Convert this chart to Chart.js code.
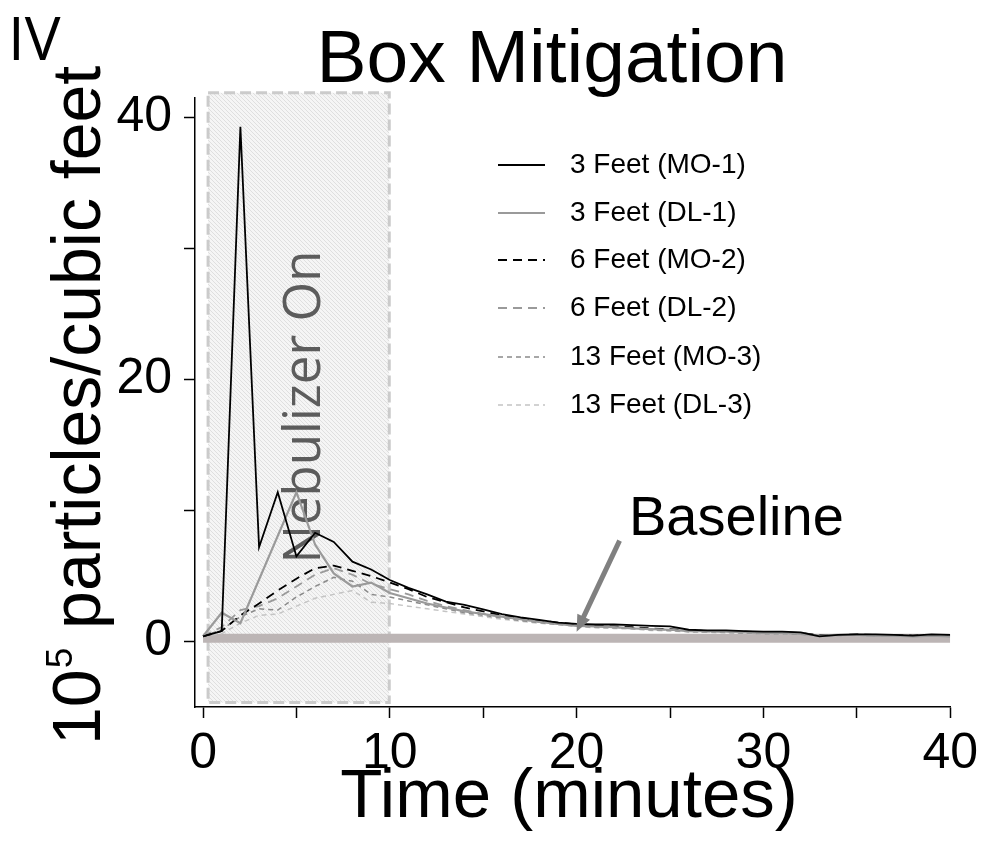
<!DOCTYPE html>
<html>
<head>
<meta charset="utf-8">
<title>Box Mitigation</title>
<script src="https://cdn.jsdelivr.net/npm/chart.js@4.4.1/dist/chart.umd.min.js"></script>
<style>
  html, body { margin: 0; padding: 0; background: #fff; }
  #chart { display: block; }
</style>
</head>
<body>
<canvas id="chart" width="984" height="852"></canvas>
<script>
// ===== DATA =====
const timeMin = [0, 1, 2, 3, 4, 5, 6, 7, 8, 9, 10, 11, 12, 13, 14, 15, 16, 17, 18, 19, 20,
  21, 22, 23, 24, 25, 26, 27, 28, 29, 30, 31, 32, 33, 34, 35, 36, 37, 38, 39, 40];

const mo1 = [0.4, 0.8, 39.3, 7.2, 11.4, 6.5, 8.3, 7.6, 6.1, 5.5, 4.7, 4.1, 3.6, 3.05, 2.8, 2.45, 2.1, 1.85, 1.65, 1.45, 1.35,
  1.3, 1.3, 1.25, 1.2, 1.15, 0.9, 0.85, 0.85, 0.8, 0.75, 0.75, 0.7, 0.4, 0.5, 0.55, 0.55, 0.5, 0.45, 0.55, 0.5];
const dl1 = [0.4, 2.2, 1.4, null, null, 11.4, 7.4, 5.2, 4.2, 4.5, 3.7, 3.3, 2.9, 2.6, 2.3, 2.1, 1.9, 1.7, 1.5, 1.35, 1.2,
  1.15, 1.1, 1.0, 0.95, 0.9, 0.8, 0.8, 0.75, 0.7, 0.65, 0.65, 0.6, 0.45, 0.5, 0.5, 0.45, 0.45, 0.4, 0.45, 0.4];
const mo2 = [0.4, 0.8, 2.0, 2.9, 3.9, 4.8, 5.6, 5.8, 5.4, 5.0, 4.5, 4.0, 3.4, 3.0, 2.6, 2.3, 2.0, 1.8, 1.6, 1.45, 1.3,
  1.2, 1.15, 1.1, 1.0, 0.95, 0.85, 0.8, 0.8, 0.75, 0.7, 0.7, 0.65, 0.5, 0.5, 0.55, 0.5, 0.5, 0.45, 0.5, 0.45];
const dl2 = [0.4, 1.1, 2.4, 2.7, 3.3, 4.2, 5.1, 5.6, 5.1, 4.4, 4.0, 3.6, 3.1, 2.7, 2.4, 2.1, 1.9, 1.7, 1.5, 1.35, 1.25,
  1.15, 1.1, 1.0, 0.95, 0.9, 0.8, 0.75, 0.75, 0.7, 0.65, 0.65, 0.6, 0.45, 0.5, 0.5, 0.45, 0.45, 0.4, 0.45, 0.4];
const mo3 = [0.4, 0.9, 1.9, 2.5, 2.4, 3.4, 4.2, 4.9, 4.6, 3.6, 3.4, 3.1, 2.8, 2.5, 2.2, 2.0, 1.8, 1.6, 1.45, 1.3, 1.2,
  1.1, 1.05, 1.0, 0.9, 0.85, 0.75, 0.75, 0.7, 0.65, 0.6, 0.6, 0.55, 0.45, 0.45, 0.5, 0.45, 0.45, 0.4, 0.45, 0.4];
const dl3 = [0.4, 0.6, 1.4, 2.0, 2.1, 2.7, 3.3, 3.6, 3.9, 3.0, 2.9, 2.7, 2.5, 2.3, 2.1, 1.9, 1.7, 1.55, 1.4, 1.3, 1.15,
  1.05, 1.0, 0.95, 0.85, 0.8, 0.75, 0.7, 0.65, 0.6, 0.6, 0.55, 0.55, 0.45, 0.45, 0.45, 0.4, 0.4, 0.4, 0.4, 0.4];

const seriesLabels = ["3 Feet (MO-1)", "3 Feet (DL-1)", "6 Feet (MO-2)", "6 Feet (DL-2)", "13 Feet (MO-3)", "13 Feet (DL-3)"];
const xTickLabels = [0, 10, 20, 30, 40];
const yTickLabels = [0, 20, 40];

// baseline band and annotations, in data units
const baselineX = [0, 40];
const baselineY = 0.25;
const nebulizerOn = [0.27, 9.97];   // minutes
const nebulizerY = [-4.66, 41.9];
const arrowFrom = [22.3, 7.7];
const arrowTo = [20.0, 0.75];

// ===== STYLES =====
const styles = [
  { color: "#000000", width: 1.8, dash: [] },
  { color: "#9a9a9a", width: 2.2, dash: [] },
  { color: "#000000", width: 1.8, dash: [9, 6] },
  { color: "#9a9a9a", width: 1.8, dash: [9, 6] },
  { color: "#8a8a8a", width: 1.5, dash: [5, 4] },
  { color: "#c4c4c4", width: 1.5, dash: [5, 4] }
];

const toPoints = vals => timeMin.map((t, i) => ({ x: t, y: vals[i] }));

const datasets = [mo1, dl1, mo2, dl2, mo3, dl3].map((vals, i) => ({
  label: seriesLabels[i],
  data: toPoints(vals),
  borderColor: styles[i].color,
  borderWidth: styles[i].width,
  borderDash: styles[i].dash,
  pointRadius: 0,
  tension: 0,
  spanGaps: true,
  fill: false
}));

// thick grey baseline, drawn underneath everything
datasets.push({
  label: "Baseline",
  data: baselineX.map(x => ({ x: x, y: baselineY })),
  borderColor: "#bcb5b5",
  borderWidth: 9,
  pointRadius: 0,
  borderCapStyle: "butt",
  fill: false
});

// hatched fill for the nebulizer box
function hatchPattern(ctx) {
  const c = document.createElement("canvas");
  c.width = 4; c.height = 4;
  const p = c.getContext("2d");
  p.fillStyle = "#f5f5f5";
  p.fillRect(0, 0, 4, 4);
  p.strokeStyle = "#dddddd";
  p.lineWidth = 0.9;
  p.beginPath();
  p.moveTo(-1, -1); p.lineTo(5, 5);
  p.moveTo(-1, 3); p.lineTo(1, 5);
  p.moveTo(3, -1); p.lineTo(5, 1);
  p.stroke();
  return ctx.createPattern(c, "repeat");
}

const SANS = "'Liberation Sans', Arial, sans-serif";

const nebulizerBox = {
  id: "nebulizerBox",
  beforeDatasetsDraw(chart) {
    const { ctx, scales: { x, y } } = chart;
    const x0 = x.getPixelForValue(nebulizerOn[0]);
    const x1 = x.getPixelForValue(nebulizerOn[1]);
    const y0 = y.getPixelForValue(nebulizerY[1]);
    const y1 = y.getPixelForValue(nebulizerY[0]);
    ctx.save();
    ctx.fillStyle = hatchPattern(ctx);
    ctx.fillRect(x0, y0, x1 - x0, y1 - y0);
    ctx.strokeStyle = "#cbcbcb";
    ctx.lineWidth = 3;
    ctx.setLineDash([11, 5]);
    ctx.strokeRect(x0, y0, x1 - x0, y1 - y0);
    ctx.setLineDash([]);

    // "Nebulizer On" label, under the lines
    ctx.translate(320, 407);
    ctx.rotate(-Math.PI / 2);
    ctx.font = "51px 'Open Sans', sans-serif";
    ctx.fillStyle = "#5c5c5c";
    ctx.textAlign = "center";
    ctx.textBaseline = "alphabetic";
    ctx.fillText("Nebulizer On", 0, 0);
    ctx.restore();
  }
};

const overlay = {
  id: "overlay",
  afterDraw(chart) {
    const { ctx, scales: { x, y } } = chart;
    ctx.save();
    ctx.fillStyle = "#000";
    ctx.textBaseline = "alphabetic";

    // panel tag and title
    ctx.font = "60px 'Open Sans', sans-serif";
    ctx.textAlign = "left";
    ctx.fillText("IV", 8, 60);
    ctx.font = "75px " + SANS;
    ctx.textAlign = "center";
    ctx.fillText("Box Mitigation", 552, 82);

    // x axis title
    ctx.font = "69px " + SANS;
    ctx.fillText("Time (minutes)", 569, 817);

    // y axis title with superscript
    ctx.save();
    ctx.translate(100, 745);
    ctx.rotate(-Math.PI / 2);
    ctx.textAlign = "left";
    ctx.font = "68px " + SANS;
    ctx.fillText("10", 0, 0);
    let w = ctx.measureText("10").width;
    ctx.font = "37px " + SANS;
    ctx.fillText("5", w + 1, -28);
    w += ctx.measureText("5").width + 1;
    ctx.font = "68px " + SANS;
    ctx.fillText(" particles/cubic feet", w, 0);
    ctx.restore();

    // baseline arrow
    const ax0 = x.getPixelForValue(arrowFrom[0]), ay0 = y.getPixelForValue(arrowFrom[1]);
    const ax1 = x.getPixelForValue(arrowTo[0]), ay1 = y.getPixelForValue(arrowTo[1]);
    const ang = Math.atan2(ay1 - ay0, ax1 - ax0);
    const head = 18;
    ctx.strokeStyle = "#808080";
    ctx.fillStyle = "#808080";
    ctx.lineWidth = 5;
    ctx.beginPath();
    ctx.moveTo(ax0, ay0);
    ctx.lineTo(ax1 - head * 0.8 * Math.cos(ang), ay1 - head * 0.8 * Math.sin(ang));
    ctx.stroke();
    ctx.beginPath();
    ctx.moveTo(ax1, ay1);
    ctx.lineTo(ax1 - head * Math.cos(ang - 0.4), ay1 - head * Math.sin(ang - 0.4));
    ctx.lineTo(ax1 - head * Math.cos(ang + 0.4), ay1 - head * Math.sin(ang + 0.4));
    ctx.closePath();
    ctx.fill();

    ctx.fillStyle = "#000";
    ctx.font = "56px " + SANS;
    ctx.textAlign = "left";
    ctx.fillText("Baseline", 629, 535);

    // legend
    const rows = [165, 213, 260, 308, 357, 405];
    ctx.font = "28px " + SANS;
    ctx.textBaseline = "middle";
    seriesLabels.forEach((lab, i) => {
      ctx.strokeStyle = styles[i].color;
      ctx.lineWidth = styles[i].width;
      ctx.setLineDash(styles[i].dash);
      ctx.beginPath();
      ctx.moveTo(498, rows[i]);
      ctx.lineTo(545, rows[i]);
      ctx.stroke();
      ctx.setLineDash([]);
      ctx.fillStyle = "#000";
      ctx.fillText(lab, 570, rows[i]);
    });
    ctx.restore();
  }
};

const tickFont = { family: SANS, size: 50 };

new Chart(document.getElementById("chart").getContext("2d"), {
  type: "line",
  data: { datasets: datasets },
  options: {
    responsive: false,
    animation: false,
    layout: { padding: { top: 98, right: 31, left: 0, bottom: 0 } },
    plugins: {
      legend: { display: false },
      tooltip: { enabled: false },
      title: { display: false }
    },
    scales: {
      x: {
        type: "linear",
        min: -0.43,
        max: 40,
        afterFit: s => { s.height = 145; },
        border: { display: true, color: "#000", width: 1.5 },
        grid: { drawOnChartArea: false, tickLength: 11, tickColor: "#000", tickWidth: 1.5 },
        ticks: {
          stepSize: 5,
          includeBounds: false,
          maxRotation: 0,
          autoSkip: false,
          padding: 6,
          color: "#000",
          font: tickFont,
          callback: v => xTickLabels.includes(v) ? String(v) : ""
        }
      },
      y: {
        type: "linear",
        min: -5,
        max: 41.5,
        afterFit: s => { s.width = 195; },
        border: { display: true, color: "#000", width: 1.5 },
        grid: { drawOnChartArea: false, tickLength: 11, tickColor: "#000", tickWidth: 1.5 },
        ticks: {
          stepSize: 10,
          includeBounds: false,
          autoSkip: false,
          padding: 12,
          color: "#000",
          font: tickFont,
          callback: v => yTickLabels.includes(v) ? String(v) : ""
        }
      }
    }
  },
  plugins: [nebulizerBox, overlay]
});
</script>
</body>
</html>
